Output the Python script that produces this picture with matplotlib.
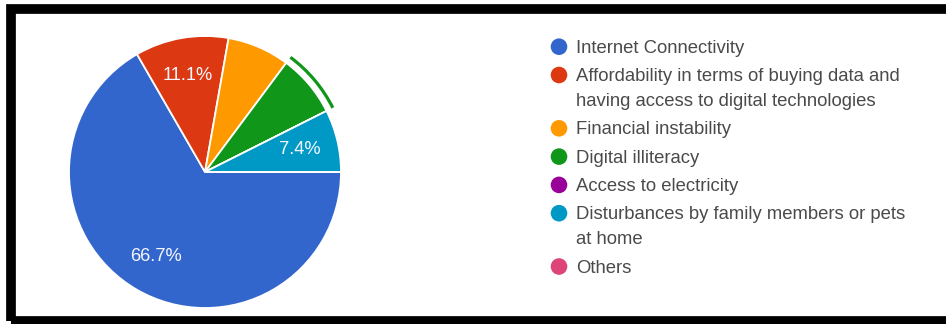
import matplotlib
matplotlib.use("Agg")
import matplotlib.pyplot as plt
from matplotlib.patches import Arc, Circle, Rectangle

# Survey responses (n = 27)
categories = [
    "Internet Connectivity",
    "Affordability in terms of buying data and\nhaving access to digital technologies",
    "Financial instability",
    "Digital illiteracy",
    "Access to electricity",
    "Disturbances by family members or pets\nat home",
    "Others",
]
counts = [18, 3, 2, 2, 0, 2, 0]
colors = ["#3366cc", "#dc3912", "#ff9900", "#109618", "#990099", "#0099c6", "#dd4477"]
show_pct = [True, True, False, False, False, True, False]
highlighted = 3  # slice outlined by the hover arc

W, H = 946, 324
fig = plt.figure(figsize=(W / 100, H / 100), dpi=100)
fig.patch.set_facecolor("white")
ax = fig.add_axes([0, 0, 1, 1])

FONT = "Liberation Sans"
cx, cy, r = 205, H - 172, 136

wedges, texts, autotexts = ax.pie(
    counts,
    colors=colors,
    center=(cx, cy),
    radius=r,
    startangle=0,
    counterclock=False,
    autopct="%1.1f%%",
    pctdistance=0.72,
    wedgeprops=dict(edgecolor="white", linewidth=1.3),
    textprops=dict(color="#f4f6ff", fontsize=13.2, family=FONT),
    frame=True,
)
ax.set_xlim(0, W)
ax.set_ylim(0, H)
ax.set_aspect("equal")
ax.axis("off")
for t, show in zip(autotexts, show_pct):
    t.set_visible(show)

# hover highlight arc around one slice
w = wedges[highlighted]
ax.add_patch(Arc((cx, cy), 2 * (r + 7), 2 * (r + 7), theta1=w.theta1, theta2=w.theta2,
                 color=colors[highlighted], lw=2.3))

# legend
lx, tx = 559, 576
y = 46.7
for label, col in zip(categories, colors):
    ax.add_patch(Circle((lx, H - y), 8.3, color=col, lw=0))
    ax.text(tx, H - y + 7, label, ha="left", va="top", fontsize=13.3, family=FONT,
            color="#4a4a4a", linespacing=1.62)
    y += 28.3 + 25 * label.count("\n")

# black frame around the panel
ax.add_patch(Rectangle((11, 3.5), 960, H - 12.5, fill=False, edgecolor="black",
                       lw=7, clip_on=False))

fig.savefig("out.png", dpi=100, facecolor="white")
